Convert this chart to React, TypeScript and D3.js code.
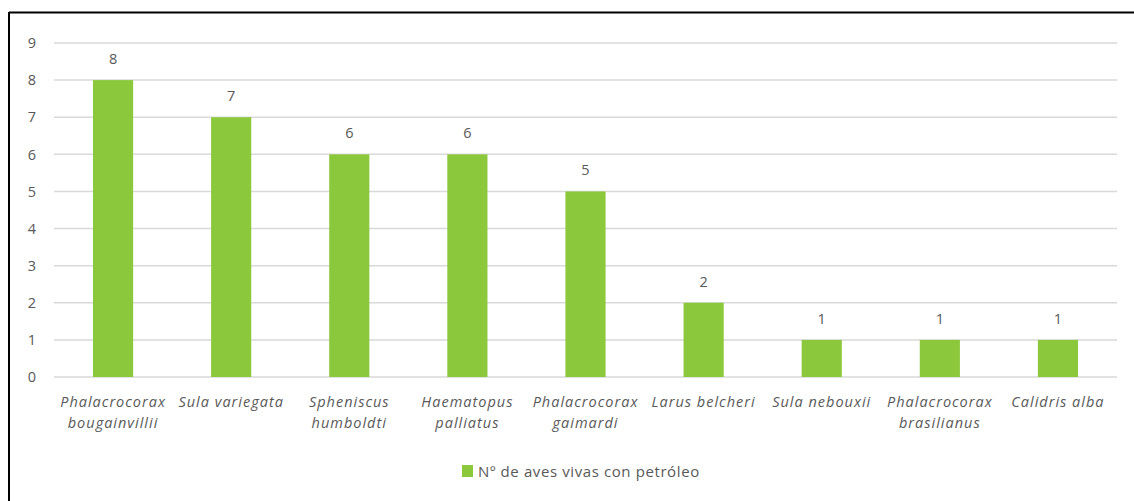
import React from "react";
import * as d3 from "d3";

const categories: string[][] = [
  ["Phalacrocorax", "bougainvillii"],
  ["Sula variegata"],
  ["Spheniscus", "humboldti"],
  ["Haematopus", "palliatus"],
  ["Phalacrocorax", "gaimardi"],
  ["Larus belcheri"],
  ["Sula nebouxii"],
  ["Phalacrocorax", "brasilianus"],
  ["Calidris alba"],
];
const values: number[] = [8, 7, 6, 6, 5, 2, 1, 1, 1];
const yTicks: number[] = [0, 1, 2, 3, 4, 5, 6, 7, 8, 9];
const seriesName = "Nº de aves vivas con petróleo";

const W = 1134;
const H = 501;
const left = 54;
const right = 1117;
const top = 43;
const bottom = 377;
const green = "#8cc83c";
const textColor = "#595959";
const font = "'Open Sans', 'Noto Sans', sans-serif";

export default function App() {
  const keys = categories.map((c) => c.join(" "));
  const x = d3.scaleBand<string>().domain(keys).range([left, right]).paddingInner(0.66).paddingOuter(0.33);
  const y = d3.scaleLinear().domain([0, 9]).range([bottom, top]);

  return (
    <svg width={W} height={H} style={{ position: "absolute", left: 0, top: 0, background: "#fff" }}>
      <rect x={0} y={0} width={W} height={H} fill="#fff" />
      {/* frame */}
      <line x1={9} y1={12.5} x2={W} y2={12.5} stroke="#000" strokeWidth={2} />
      <line x1={9} y1={12} x2={9} y2={H} stroke="#000" strokeWidth={2} />
      {/* gridlines */}
      {yTicks.map((t) => (
        <g key={t}>
          <line x1={left} x2={right} y1={y(t)} y2={y(t)} stroke="#d9d9d9" strokeWidth={1.5} />
          <text x={32} y={y(t)} dy="0.36em" textAnchor="middle" fontFamily={font} fontSize={14.5} fill={textColor}>
            {t}
          </text>
        </g>
      ))}
      {/* bars */}
      {values.map((v, i) => {
        const k = keys[i];
        const bx = x(k)!;
        const bw = x.bandwidth();
        return (
          <g key={k}>
            <rect x={bx} y={y(v)} width={bw} height={y(0) - y(v)} fill={green} />
            <text x={bx + bw / 2} y={y(v) - 16} textAnchor="middle" fontFamily={font} fontSize={14.5} fill={textColor}>
              {v}
            </text>
            {categories[i].map((line, j) => (
              <text
                key={j}
                x={bx + bw / 2}
                y={407 + j * 21}
                textAnchor="middle"
                fontFamily={font}
                fontStyle="italic"
                fontSize={14.5}
                letterSpacing={1}
                fill={textColor}
              >
                {line}
              </text>
            ))}
          </g>
        );
      })}
      {/* legend */}
      <rect x={462} y={465} width={11} height={12} fill={green} />
      <text x={478} y={477} fontFamily={font} fontSize={15} letterSpacing={0.6} fill={textColor}>
        {seriesName}
      </text>
    </svg>
  );
}
